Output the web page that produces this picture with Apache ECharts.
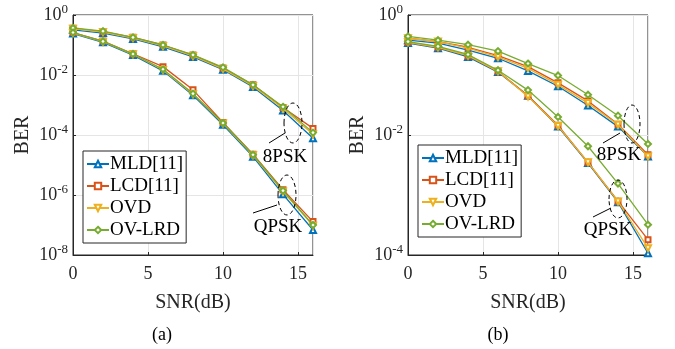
<!DOCTYPE html>
<html>
<head>
<meta charset="utf-8">
<script src="https://cdn.jsdelivr.net/npm/echarts@6/dist/echarts.min.js"></script>
<style>
  html, body { margin: 0; padding: 0; background: #fff; }
  #chart { width: 675px; height: 349px; }
</style>
</head>
<body>
<div id="chart"></div>
<script>
const snr = [0, 2, 4, 6, 8, 10, 12, 14, 16];
const methods = ['MLD[11]', 'LCD[11]', 'OVD', 'OV-LRD'];

// (a) 8PSK
const a8MLD = [0.32, 0.25, 0.16, 0.087, 0.040, 0.015, 4.0e-3, 6.6e-4, 7.8e-5];
const a8LCD = [0.36, 0.28, 0.18, 0.10, 0.046, 0.017, 4.7e-3, 8.3e-4, 1.66e-4];
const a8OVD = [0.35, 0.27, 0.17, 0.093, 0.043, 0.016, 4.3e-3, 7.6e-4, 1.05e-4];
const a8LRD = [0.37, 0.29, 0.18, 0.10, 0.047, 0.018, 4.7e-3, 8.7e-4, 1.2e-4];
// (a) QPSK
const aQMLD = [0.24, 0.123, 0.046, 0.0138, 2.1e-3, 2.2e-4, 1.9e-5, 1.05e-6, 6.8e-8];
const aQLCD = [0.26, 0.135, 0.051, 0.019, 3.2e-3, 2.6e-4, 2.3e-5, 1.5e-6, 1.3e-7];
const aQOVD = [0.25, 0.129, 0.049, 0.0148, 2.3e-3, 2.4e-4, 2.1e-5, 1.3e-6, 9.5e-8];
const aQLRD = [0.26, 0.132, 0.050, 0.0155, 2.4e-3, 2.5e-4, 2.2e-5, 1.4e-6, 1.0e-7];
// (b) 8PSK
const b8MLD = [0.38, 0.34, 0.26, 0.19, 0.117, 0.065, 0.031, 0.0138, 4.4e-3];
const b8LCD = [0.41, 0.36, 0.29, 0.21, 0.138, 0.074, 0.037, 0.0151, 4.7e-3];
const b8OVD = [0.41, 0.36, 0.28, 0.20, 0.129, 0.069, 0.034, 0.0148, 4.4e-3];
const b8LRD = [0.44, 0.38, 0.32, 0.25, 0.155, 0.098, 0.047, 0.021, 7.1e-3];
// (b) QPSK
const bQMLD = [0.34, 0.28, 0.20, 0.112, 0.045, 0.0138, 3.4e-3, 7.6e-4, 1.07e-4];
const bQLCD = [0.35, 0.29, 0.21, 0.115, 0.045, 0.0145, 3.5e-3, 7.9e-4, 1.8e-4];
const bQOVD = [0.35, 0.29, 0.21, 0.115, 0.044, 0.0141, 3.5e-3, 7.8e-4, 1.3e-4];
const bQLRD = [0.36, 0.30, 0.22, 0.12, 0.056, 0.020, 6.5e-3, 1.55e-3, 3.2e-4];

const colors = ['#0072BD', '#D95319', '#EDB120', '#77AC30'];
const symbols = ['emptyTriangle', 'emptyRect', 'emptyTriangle', 'emptyDiamond'];
const rotates = [0, 0, 180, 0];
const sizes = [6, 5, 6, 6];
const axisColor = '#262626';
const font = 'Liberation Serif';

function makeSeries(name, idx, vals, g) {
  return {
    name: name,
    type: 'line',
    xAxisIndex: g,
    yAxisIndex: g,
    data: snr.map((x, i) => [x, vals[i]]),
    symbol: symbols[idx],
    symbolRotate: rotates[idx],
    symbolSize: sizes[idx],
    color: colors[idx],
    lineStyle: { width: 1.3, color: colors[idx] },
    itemStyle: { color: colors[idx], borderWidth: 1.3 },
    animation: false,
    z: 3 + idx
  };
}

const series = [];
[[a8MLD, a8LCD, a8OVD, a8LRD], [aQMLD, aQLCD, aQOVD, aQLRD]].forEach(grp =>
  grp.forEach((v, i) => series.push(makeSeries(methods[i], i, v, 0))));
[[b8MLD, b8LCD, b8OVD, b8LRD], [bQMLD, bQLCD, bQOVD, bQLRD]].forEach(grp =>
  grp.forEach((v, i) => series.push(makeSeries(methods[i], i, v, 1))));

function xAxis(g) {
  return {
    type: 'value', gridIndex: g, min: 0, max: 16, interval: 5,
    name: 'SNR(dB)', nameLocation: 'middle', nameGap: 38,
    nameTextStyle: { fontFamily: font, fontSize: 20, color: axisColor },
    axisLine: { lineStyle: { color: axisColor } },
    axisTick: { inside: true, length: 3, lineStyle: { color: axisColor } },
    axisLabel: { fontFamily: font, fontSize: 18, color: axisColor, margin: 10, showMaxLabel: false },
    splitLine: { show: true, lineStyle: { color: '#e5e5e5' } }
  };
}
function yAxis(g, min) {
  return {
    type: 'log', logBase: 10, gridIndex: g, min: min, max: 1, interval: 2,
    name: 'BER', nameLocation: 'middle', nameGap: 40, nameRotate: 90,
    nameTextStyle: { fontFamily: font, fontSize: 20, color: axisColor },
    axisLine: { show: true, lineStyle: { color: axisColor } },
    axisTick: { inside: true, length: 3, lineStyle: { color: axisColor } },
    minorTick: { show: false },
    axisLabel: {
      margin: 5,
      formatter: v => '{b|10}{s|' + Math.round(Math.log10(v)) + '}',
      rich: {
        b: { fontFamily: font, fontSize: 18, color: axisColor },
        s: { fontFamily: font, fontSize: 13, color: axisColor, padding: [0, 0, 11, 0] }
      }
    },
    splitLine: { show: true, lineStyle: { color: '#e5e5e5' } }
  };
}
function legend(left, top) {
  return {
    data: methods, orient: 'vertical', left: left, top: top,
    backgroundColor: '#fff', borderColor: axisColor, borderWidth: 1,
    padding: [3, 3, 3, 3], itemGap: 2, itemWidth: 22, itemHeight: 8,
    textStyle: { fontFamily: font, fontSize: 19, color: '#000', lineHeight: 20, padding: [0, 0, 0, -4] },
    selectedMode: false
  };
}

function ellipse(cx, cy, rx, ry) {
  return { type: 'ellipse', shape: { cx: cx, cy: cy, rx: rx, ry: ry }, z: 20,
    style: { fill: null, stroke: '#000', lineWidth: 1, lineDash: [4, 3] } };
}
function seg(x1, y1, x2, y2) {
  return { type: 'line', shape: { x1: x1, y1: y1, x2: x2, y2: y2 }, z: 20,
    style: { stroke: '#000', lineWidth: 1 } };
}
function label(text, x, y, size) {
  return { type: 'text', x: x, y: y, z: 20,
    style: { text: text, fontFamily: font, fontSize: size, fill: '#000', align: 'center', verticalAlign: 'middle' } };
}

const option = {
  backgroundColor: '#fff',
  animation: false,
  grid: [
    { left: 73, top: 15, width: 240, height: 240, show: true, borderColor: axisColor, borderWidth: 1, backgroundColor: '#fff' },
    { left: 408, top: 15, width: 240, height: 240, show: true, borderColor: axisColor, borderWidth: 1, backgroundColor: '#fff' }
  ],
  xAxis: [xAxis(0), xAxis(1)],
  yAxis: [yAxis(0, 1e-8), yAxis(1, 1e-4)],
  legend: [legend(83, 151), legend(418, 145)],
  series: series,
  graphic: [
    ellipse(293, 123, 9, 20), seg(269, 143, 285, 133), label('8PSK', 285, 157, 19),
    ellipse(287, 195, 9, 20), seg(253, 213, 277, 205), label('QPSK', 278, 227, 19),
    ellipse(632, 124, 8, 19), seg(603, 143, 620, 133), label('8PSK', 619, 155, 19),
    ellipse(618, 199, 9, 19), seg(593, 217, 611, 208), label('QPSK', 608, 230, 19),
    label('(a)', 162, 335, 18),
    label('(b)', 498, 335, 18)
  ]
};

const chart = echarts.init(document.getElementById('chart'));
chart.setOption(option);
window.addEventListener('resize', chart.resize);
</script>
</body>
</html>
